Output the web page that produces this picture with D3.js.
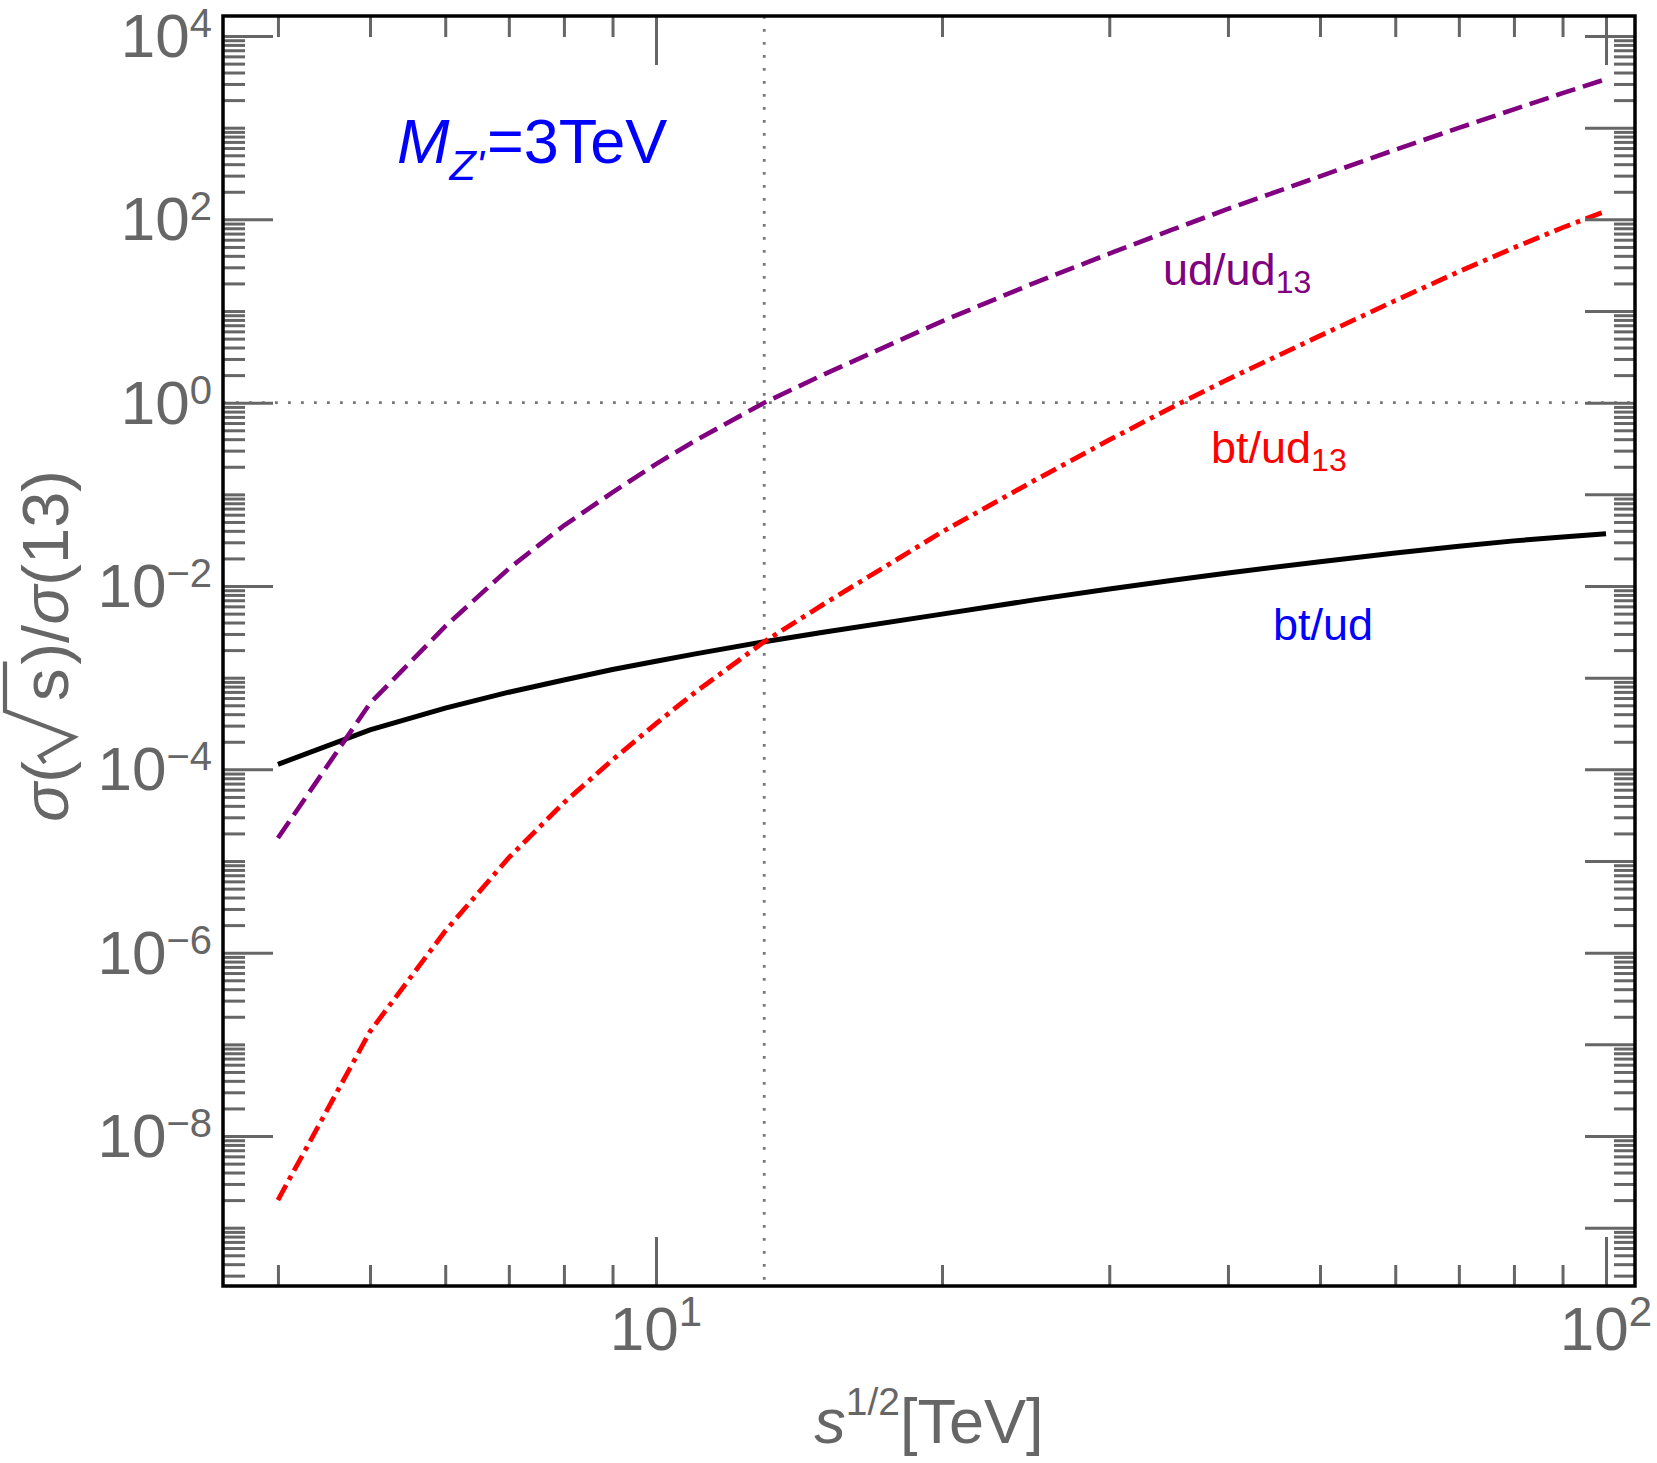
<!DOCTYPE html>
<html>
<head>
<meta charset="utf-8">
<script src="https://cdn.jsdelivr.net/npm/d3@7"></script>
<style>
  body { margin: 0; background: #fff; }
  svg { display: block; font-family: "Liberation Sans", Arial, sans-serif; }
</style>
</head>
<body>
<div id="chart"></div>
<script>
// sqrt(s) in TeV
const energies = [4, 5, 6, 7, 8, 9, 10, 11, 13, 15, 20, 25, 30, 35, 40, 50, 60, 70, 80, 90, 100];

// ud(s)/ud(13)
const udRatio = [1.78e-5, 5.25e-4, 3.63e-3, 1.55e-2, 4.57e-2, 0.105, 0.214, 0.386, 1.0, 2.02,
    7.73, 20.2, 42.2, 77.6, 130, 295, 575, 995, 1585, 2380, 3390];

// bt(s)/ud(s)
const btOverUd = [1.135e-4, 2.69e-4, 4.66e-4, 6.95e-4, 9.44e-4, 1.23e-3, 1.51e-3, 1.82e-3, 2.47e-3, 3.13e-3,
    4.94e-3, 7.06e-3, 9.29e-3, 1.156e-2, 1.387e-2, 1.845e-2, 2.29e-2, 2.71e-2, 3.11e-2, 3.43e-2, 3.72e-2];

// bt(s)/ud(13)
const btRatio = [2.0e-9, 1.38e-7, 1.72e-6, 1.09e-5, 4.33e-5, 1.27e-4, 3.16e-4, 6.95e-4, 2.47e-3, 6.31e-3,
    3.89e-2, 0.141, 0.392, 0.902, 1.80, 5.37, 13.0, 26.9, 49.0, 81.3, 123];

const xRange = [3.5013, 107.28];
const yRange = [2.312e-10, 16540];
const yLabelExps = [-8, -6, -4, -2, 0, 2, 4];
const xLabelExps = [1, 2];
const refX = 13, refY = 1;

const W = 1657, H = 1463;
const pLeft = 223, pRight = 1635, pTop = 16, pBottom = 1286;
const gray = "#666666";

const svg = d3.select("#chart").append("svg")
    .attr("width", W)
    .attr("height", H);

const x = d3.scaleLog().domain(xRange).range([pLeft, pRight]);
const y = d3.scaleLog().domain(yRange).range([pBottom, pTop]);

// reference lines (dotted)
svg.append("line")
    .attr("x1", pLeft).attr("x2", pRight)
    .attr("y1", y(refY)).attr("y2", y(refY))
    .attr("stroke", "#777").attr("stroke-width", 2.8)
    .attr("stroke-dasharray", "2.8,10.2");
svg.append("line")
    .attr("x1", x(refX)).attr("x2", x(refX))
    .attr("y1", pTop).attr("y2", pBottom)
    .attr("stroke", "#777").attr("stroke-width", 2.8)
    .attr("stroke-dasharray", "2.8,10.2");

// curves
const line = d3.line()
    .x(d => x(d[0]))
    .y(d => y(d[1]));

const series = [
    { values: btOverUd, color: "#000000", width: 5, dash: null },
    { values: udRatio, color: "#800080", width: 4.6, dash: "20,8" },
    { values: btRatio, color: "#ff0000", width: 4.8, dash: "17,6,4.5,6" }
];

series.forEach(s => {
    svg.append("path")
        .datum(energies.map((e, i) => [e, s.values[i]]))
        .attr("d", line)
        .attr("fill", "none")
        .attr("stroke", s.color)
        .attr("stroke-width", s.width)
        .attr("stroke-dasharray", s.dash);
});

// tick values
const yMinor = [], yMajorLeft = [], yMajorRight = [];
for (let e = -10; e <= 4; e++) {
    for (let m = 1; m <= 9; m++) {
        const v = m * Math.pow(10, e);
        if (v < yRange[0] || v > yRange[1]) continue;
        if (m === 1) {
            yMajorRight.push(v);
            if (e % 2 === 0) yMajorLeft.push(v); else yMinor.push(v);
        } else {
            yMinor.push(v);
        }
    }
}
const yMinorRight = yMinor.filter(v => !yMajorRight.includes(v));
const xMinor = [], xMajor = [];
for (let e = 0; e <= 2; e++) {
    for (let m = 1; m <= 9; m++) {
        const v = m * Math.pow(10, e);
        if (v < xRange[0] || v > xRange[1]) continue;
        (m === 1 ? xMajor : xMinor).push(v);
    }
}

function styleAxis(g) {
    g.select(".domain").remove();
    g.selectAll(".tick line")
        .attr("stroke", gray)
        .attr("stroke-width", 3);
    g.selectAll(".tick text").remove();
}

const axes = [
    [d3.axisLeft(y).tickValues(yMinor).tickSize(-22), `translate(${pLeft},0)`],
    [d3.axisLeft(y).tickValues(yMajorLeft).tickSize(-50), `translate(${pLeft},0)`],
    [d3.axisRight(y).tickValues(yMinorRight).tickSize(-21), `translate(${pRight},0)`],
    [d3.axisRight(y).tickValues(yMajorRight).tickSize(-50), `translate(${pRight},0)`],
    [d3.axisBottom(x).tickValues(xMinor).tickSize(-21), `translate(0,${pBottom})`],
    [d3.axisBottom(x).tickValues(xMajor).tickSize(-49), `translate(0,${pBottom})`],
    [d3.axisTop(x).tickValues(xMinor).tickSize(-21), `translate(0,${pTop})`],
    [d3.axisTop(x).tickValues(xMajor).tickSize(-49), `translate(0,${pTop})`]
];
axes.forEach(([ax, tr]) => {
    svg.append("g").attr("transform", tr).call(ax).call(styleAxis);
});

// frame
svg.append("rect")
    .attr("x", pLeft).attr("y", pTop)
    .attr("width", pRight - pLeft).attr("height", pBottom - pTop)
    .attr("fill", "none")
    .attr("stroke", "#000")
    .attr("stroke-width", 3.5);

// tick labels
function expText(e) {
    return e < 0 ? "\u2212" + (-e) : String(e);
}

yLabelExps.forEach(e => {
    const t = svg.append("text")
        .attr("x", 212)
        .attr("y", y(Math.pow(10, e)) + 21)
        .attr("text-anchor", "end")
        .attr("fill", gray)
        .attr("font-size", 62);
    t.append("tspan").text("10");
    t.append("tspan").attr("font-size", 40).attr("dy", -20).text(expText(e));
});

xLabelExps.forEach(e => {
    const t = svg.append("text")
        .attr("x", x(Math.pow(10, e)))
        .attr("y", 1350)
        .attr("text-anchor", "middle")
        .attr("fill", gray)
        .attr("font-size", 62);
    t.append("tspan").text("10");
    t.append("tspan").attr("font-size", 42).attr("dy", -24).text(expText(e));
});

// x axis title
const xt = svg.append("text")
    .attr("x", (pLeft + pRight) / 2)
    .attr("y", 1443)
    .attr("text-anchor", "middle")
    .attr("fill", gray)
    .attr("font-size", 63);
xt.append("tspan").attr("font-style", "italic").text("s");
xt.append("tspan").attr("font-size", 39).attr("dy", -28).text("1/2");
xt.append("tspan").attr("dy", 28).text("[TeV]");

// y axis title with a drawn radical
const yg = svg.append("g")
    .attr("transform", `translate(68,646) rotate(-90)`);
const yt = yg.append("text")
    .attr("text-anchor", "middle")
    .attr("fill", gray)
    .attr("font-size", 65);
yt.append("tspan").attr("font-style", "italic").text("\u03c3");
yt.append("tspan").text("(");
const sSpan = yt.append("tspan").attr("dx", 60).text("s");
yt.append("tspan").attr("dx", 4).text(")/");
yt.append("tspan").attr("font-style", "italic").text("\u03c3");
yt.append("tspan").text("(13)");

const sb = sSpan.node().getBBox();
const xs = sb.x, xe = sb.x + sb.width;
yg.append("path")
    .attr("d", `M${xs - 62},-23 L${xs - 55},-28 L${xs - 36},6 L${xs - 10},-63 L${xe + 7},-63`)
    .attr("fill", "none")
    .attr("stroke", gray)
    .attr("stroke-width", 4.2)
    .attr("stroke-linejoin", "miter");

// annotations
const mz = svg.append("text")
    .attr("x", 397).attr("y", 163)
    .attr("fill", "#0000ff")
    .attr("font-size", 63);
mz.append("tspan").attr("font-style", "italic").text("M");
mz.append("tspan").attr("font-style", "italic").attr("font-size", 43).attr("dy", 17).text("Z'");
mz.append("tspan").attr("dy", -17).attr("dx", 3).text("=3TeV");

const curveLabels = [
    { x: 1163, y: 285, main: "ud/ud", sub: "13", color: "#800080" },
    { x: 1211, y: 463, main: "bt/ud", sub: "13", color: "#ff0000" },
    { x: 1273, y: 640, main: "bt/ud", sub: "", color: "#0000ff" }
];
curveLabels.forEach(l => {
    const t = svg.append("text")
        .attr("x", l.x).attr("y", l.y)
        .attr("fill", l.color)
        .attr("font-size", 45);
    t.append("tspan").text(l.main);
    if (l.sub) t.append("tspan").attr("font-size", 32).attr("dy", 8).text(l.sub);
});
</script>
</body>
</html>
